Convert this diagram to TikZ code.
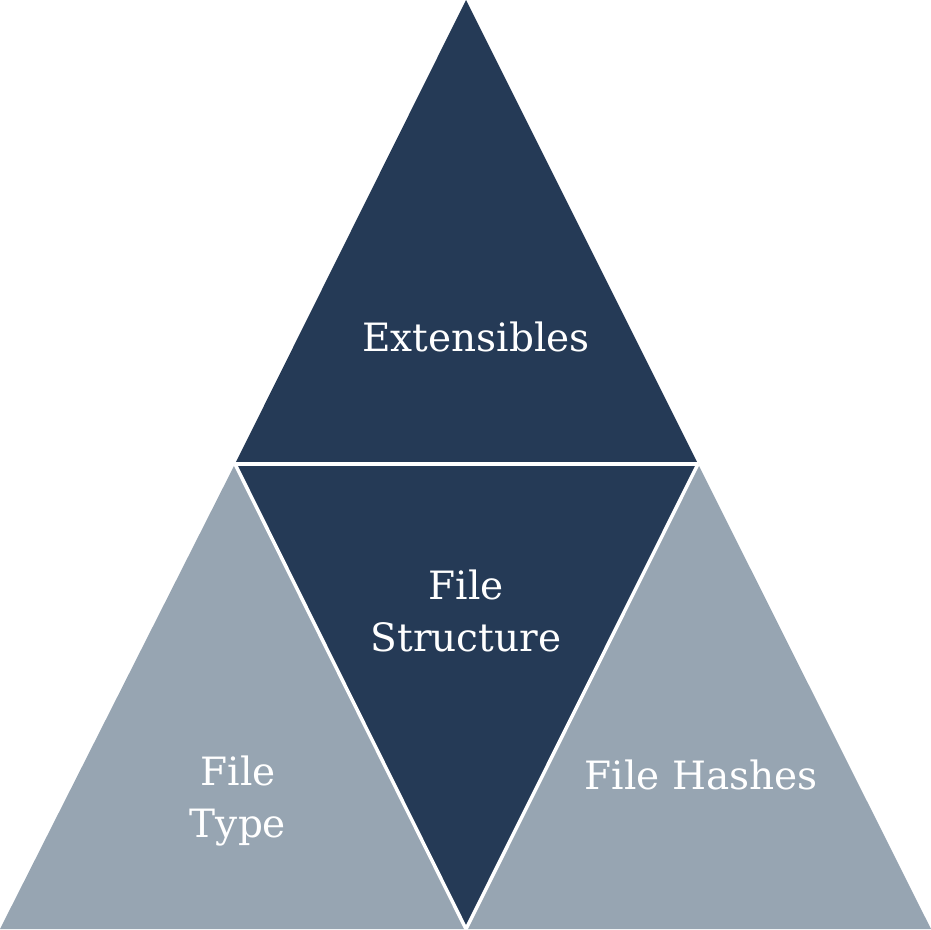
\documentclass[tikz,border=0pt]{standalone}
\usepackage{fontspec}
\setmainfont{DejaVu Serif}
\definecolor{navy}{HTML}{253A56}
\definecolor{slate}{HTML}{97A5B2}
\tikzset{
    part/.style={draw=white, line width=3.5pt, line join=miter},
    label/.style={text=white, align=center, font=\fontsize{39}{52}\selectfont}
}
\begin{document}
\begin{tikzpicture}[x=1pt, y=1pt]
        \useasboundingbox (0,0) rectangle (931,929);
        \coordinate (apex) at (466,929);
        \coordinate (ml) at (235,465);
        \coordinate (mr) at (698,465);
        \coordinate (bl) at (0,0);
        \coordinate (bm) at (466,0);
        \coordinate (br) at (931,0);
        \fill[slate] (ml) -- (bl) -- (bm) -- cycle;
        \fill[slate] (mr) -- (bm) -- (br) -- cycle;
        \fill[navy] (apex) -- (ml) -- (mr) -- cycle;
        \fill[navy] (ml) -- (mr) -- (bm) -- cycle;
        \draw[part] (ml) -- (mr);
        \draw[part] (ml) -- (bm) -- (mr);
        \node[label] at (476,592) (ext) {Extensibles};
        \node[label] at (466,318) (struct) {File\\Structure};
        \node[label] at (238,128) (type) {File\\Type};
        \node[label] at (701,154) (hash) {File Hashes};
    \end{tikzpicture}
\end{document}
